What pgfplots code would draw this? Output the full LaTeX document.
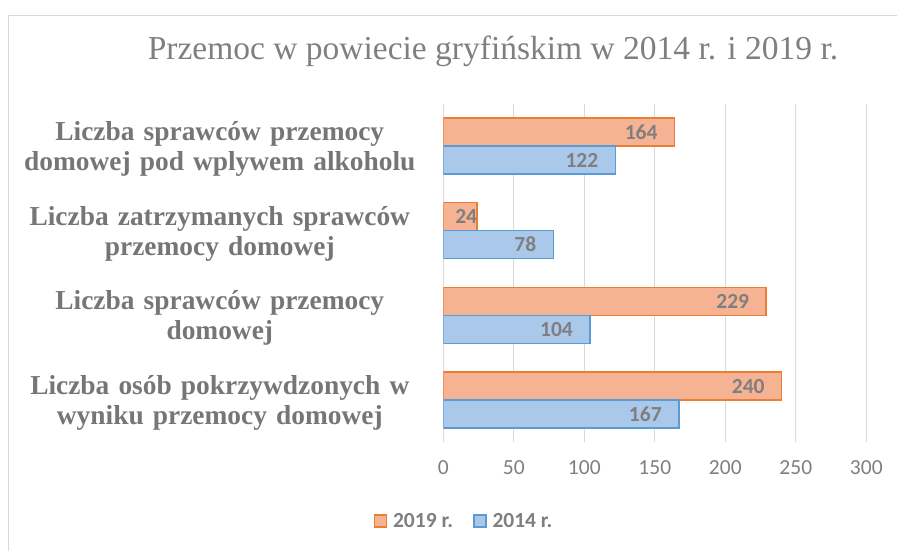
\documentclass[border=0pt]{standalone}
\usepackage{fontspec}
\setmainfont{Liberation Serif}
\newfontfamily\calibri{Carlito}
\usepackage{pgfplots}
\pgfplotsset{compat=1.18}
\definecolor{gridc}{HTML}{D9D9D9}
\definecolor{txt}{HTML}{7F7F7F}
\definecolor{cat}{HTML}{767676}
\definecolor{oline}{HTML}{ED7D31}
\definecolor{ofill}{HTML}{F5B393}
\definecolor{bline}{HTML}{5B9BD5}
\definecolor{bfill}{HTML}{AAC8E9}
\begin{document}
\begin{tikzpicture}
\path[use as bounding box] (0pt,0pt) rectangle (897pt,550pt);
\draw[gridc, line width=1.2pt] (8.5pt,-10pt) -- (8.5pt,534.5pt) -- (910pt,534.5pt);
\begin{axis}[
  at={(443.3pt,107.6pt)}, anchor=south west,
  scale only axis, width=423pt, height=338.8pt,
  xbar, xmin=0, xmax=300, ymin=-0.5, ymax=3.5,
  bar width=28pt,
  xtick={0,50,100,150,200,250,300},
  ytick={0,1,2,3},
  yticklabels={{Liczba osób pokrzywdzonych w\\wyniku przemocy domowej},
               {Liczba sprawców przemocy\\domowej},
               {Liczba zatrzymanych sprawców\\przemocy domowej},
               {Liczba sprawców przemocy\\domowej pod wplywem alkoholu}},
  yticklabel style={text width=400pt, align=center, inner sep=0pt, xshift=-23.3pt, yshift=-3pt,
    font=\fontsize{27.4}{30}\selectfont\bfseries, text=cat},
  xticklabel style={font=\calibri\fontsize{21.5}{24}\selectfont, text=txt, yshift=-15pt},
  /pgf/number format/assume math mode=true,
  major tick length=0pt,
  axis line style={draw=none},
  xmajorgrids, grid style={gridc, line width=1.2pt},
  title={Przemoc w powiecie gryfińskim w 2014 r. i 2019 r.},
  title style={at={(0.1175,1.1139)}, anchor=base, font=\fontsize{33.5}{38}\selectfont, text=txt},
  point meta=x,
  nodes near coords,
  visualization depends on={rawx \as \myx},
  nodes near coords style={anchor=east, xshift={(\myx<40) ? 4 : -13},
    font=\calibri\bfseries\fontsize{21.5}{24}\selectfont, text=txt},
  legend columns=2,
  legend style={at={(0.049,-0.232)}, anchor=center, draw=none, fill=none,
    font=\calibri\bfseries\fontsize{21.5}{24}\selectfont, text=txt,
    /tikz/every odd column/.append style={column sep=4pt},
    /tikz/every even column/.append style={column sep=18pt}},
  legend image code/.code={\draw[#1, line width=1.5pt] (0pt,-6pt) rectangle (12pt,6pt);},
]
\addplot+[bar shift=14pt, draw=oline, line width=1.5pt, fill=ofill]
  coordinates {(240,0) (229,1) (24,2) (164,3)};
\addlegendentry{2019 r.}
\addplot+[bar shift=-14pt, draw=bline, line width=1.5pt, fill=bfill]
  coordinates {(167,0) (104,1) (78,2) (122,3)};
\addlegendentry{2014 r.}
\end{axis}
\end{tikzpicture}
\end{document}
